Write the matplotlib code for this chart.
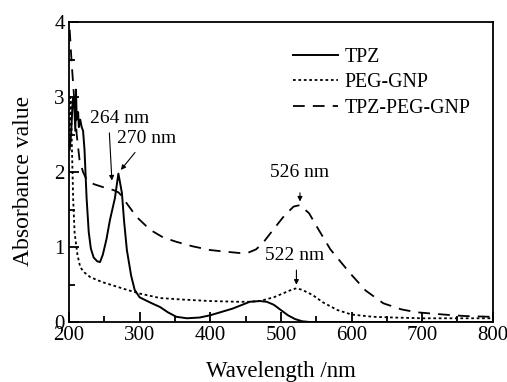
import numpy as np
import matplotlib.pyplot as plt

plt.rcParams['font.family'] = ['Liberation Serif', 'DejaVu Serif']

# TPZ (solid)
tpz_wl = [201, 203, 205, 206, 207, 209, 210, 211, 213, 214, 216, 218, 220, 222, 225, 228, 231, 235,
          240, 244, 248, 253, 258, 265, 270, 275, 278, 282, 288, 293, 300, 315, 329, 340, 352, 367,
          385, 400, 432, 456, 470, 480, 490, 500, 510, 520, 530, 541, 560, 600, 700, 800]
tpz_abs = [2.3, 2.5, 2.9, 3.0, 3.0, 2.55, 3.1, 2.7, 2.8, 2.6, 2.7, 2.6, 2.55, 2.3, 1.65, 1.2, 0.98, 0.86,
           0.81, 0.80, 0.9, 1.1, 1.36, 1.65, 1.98, 1.72, 1.35, 0.96, 0.62, 0.43, 0.33, 0.26, 0.2, 0.13, 0.07, 0.05,
           0.06, 0.09, 0.18, 0.27, 0.28, 0.27, 0.23, 0.16, 0.09, 0.04, 0.01, 0.0, 0.0, 0.0, 0.0, 0.0]

# PEG-GNP (dotted)
peg_wl = [201, 202, 203, 204, 206, 208, 212, 216, 222, 230, 240, 248, 265, 282, 300, 329, 360, 400,
          440, 456, 470, 490, 505, 515, 522, 530, 545, 560, 580, 600, 630, 660, 700, 750, 800]
peg_abs = [2.4, 3.0, 2.9, 2.4, 1.63, 1.19, 0.9, 0.73, 0.66, 0.6, 0.56, 0.53, 0.48, 0.43, 0.38, 0.32, 0.3, 0.28,
           0.27, 0.27, 0.28, 0.33, 0.39, 0.43, 0.45, 0.43, 0.36, 0.26, 0.16, 0.1, 0.07, 0.06, 0.05, 0.05, 0.05]

# TPZ-PEG-GNP (dashed)
mix_wl = [201, 202, 203, 205, 208, 211, 215, 220, 225, 235, 248, 263, 270, 275, 282, 296, 315, 333, 352,
          375, 400, 420, 442, 455, 465, 475, 489, 505, 518, 527, 540, 551, 570, 598, 620, 645, 670, 692,
          730, 760, 796, 800]
mix_abs = [3.9, 3.75, 3.58, 3.3, 2.9, 2.5, 2.16, 2.0, 1.9, 1.84, 1.8, 1.76, 1.73, 1.68, 1.58, 1.4, 1.23, 1.13, 1.07,
           1.01, 0.96, 0.94, 0.92, 0.93, 0.97, 1.06, 1.23, 1.42, 1.54, 1.56, 1.45, 1.27, 0.97, 0.65, 0.42, 0.25, 0.17, 0.13,
           0.1, 0.08, 0.07, 0.07]

fig = plt.figure(figsize=(5.07, 3.82), dpi=100)
ax = fig.add_axes([0.136, 0.157, 0.836, 0.785])

ax.plot(tpz_wl, tpz_abs, color='black', lw=1.4, ls='-', label='TPZ')
ax.plot(peg_wl, peg_abs, color='black', lw=1.3, ls=(0, (1.5, 1.5)), label='PEG-GNP')
ax.plot(mix_wl, mix_abs, color='black', lw=1.3, ls=(0, (6.5, 4.5)), label='TPZ-PEG-GNP')

ax.set_xlim(200, 800)
ax.set_ylim(0, 4)
ax.set_xticks([200, 300, 400, 500, 600, 700, 800])
ax.set_xticks(np.arange(250, 800, 100), minor=True)
ax.set_yticks([0, 1, 2, 3, 4])
ax.set_yticks([0.5, 1.5, 2.5, 3.5], minor=True)
ax.tick_params(which='both', direction='in', top=False, right=False, labelsize=15, width=1.3)
ax.tick_params(which='major', length=7, pad=3)
ax.tick_params(which='minor', length=4)
for s in ax.spines.values():
    s.set_linewidth(1.3)

ax.set_xlabel('Wavelength /nm', fontsize=16.5)
ax.xaxis.set_label_coords(0.5, -0.13)
ax.set_ylabel('Absorbance value', fontsize=17)
ax.yaxis.set_label_coords(-0.083, 0.47)

arrow = dict(arrowstyle='-|>', color='black', lw=0.8, mutation_scale=7)
ax.text(272, 2.72, '264 nm', fontsize=14, ha='center', va='center')
ax.annotate('', xy=(261, 1.85), xytext=(257, 2.56), arrowprops=arrow)
ax.text(310, 2.45, '270 nm', fontsize=14, ha='center', va='center')
ax.annotate('', xy=(271, 2.0), xytext=(296, 2.29), arrowprops=arrow)
ax.text(527, 1.99, '526 nm', fontsize=14, ha='center', va='center')
ax.annotate('', xy=(527, 1.57), xytext=(527, 1.76), arrowprops=arrow)
ax.text(520, 0.89, '522 nm', fontsize=14, ha='center', va='center')
ax.annotate('', xy=(522, 0.46), xytext=(522, 0.73), arrowprops=arrow)

ax.legend(loc='upper left', bbox_to_anchor=(0.486, 0.975), frameon=False, fontsize=14.3,
          handlelength=2.3, handletextpad=0.3, labelspacing=0.33)

fig.savefig('out.png', dpi=100)
